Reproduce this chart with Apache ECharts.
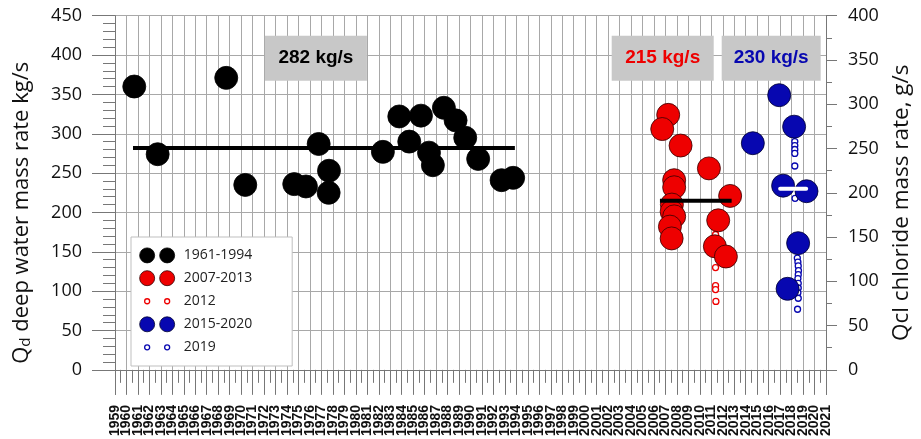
<!DOCTYPE html>
<html>
<head>
<meta charset="utf-8">
<script src="https://cdn.jsdelivr.net/npm/echarts@6/dist/echarts.min.js"></script>
<style>
  html, body { margin: 0; padding: 0; background: #fff; }
  #chart1 { width: 921px; height: 439px; }
</style>
</head>
<body>
<div id="chart1"></div>
<script>
// 1961-1994 (black)
const blackYears = [1960.68, 1962.72, 1968.70, 1970.36, 1974.63, 1975.65, 1976.76, 1977.66, 1977.63, 1982.36, 1983.79,
    1984.66, 1985.68, 1986.38, 1986.72, 1987.68, 1988.70, 1989.54, 1990.67, 1992.71, 1993.72];
const blackValues = [360, 274, 371, 235, 236, 233, 287, 253, 225, 277, 322, 290, 323, 276, 260, 333, 317, 295, 268, 241, 244];

// 2007-2013 (red)
const redYears = [2007.24, 2006.72, 2008.32, 2010.79, 2007.76, 2007.76, 2012.64, 2007.56, 2007.54, 2007.76, 2007.39,
    2007.54, 2011.60, 2011.31, 2012.27];
const redValues = [324, 306, 285, 256, 241, 232, 221, 210, 201, 195, 182, 167, 190, 157, 144];

// 2012 (small red)
const red2012Years = [2011.37, 2011.37, 2011.37, 2011.37, 2011.40];
const red2012Values = [172, 130, 107, 102, 87];

// 2015-2020 (blue)
const blueYears = [2016.92, 2018.22, 2014.62, 2017.26, 2019.30, 2018.57, 2017.65];
const blueValues = [349, 309, 288, 234, 227, 161, 103];

// 2019 (small blue)
const blue2019Years = [2018.28, 2018.28, 2018.28, 2018.28, 2018.28, 2018.30, 2018.50, 2018.55, 2018.58, 2018.60, 2018.58,
    2018.55, 2018.58, 2018.58, 2018.55, 2018.58, 2018.52];
const blue2019Values = [290, 285, 280, 275, 259, 218, 142, 137, 132, 126, 121, 116, 110, 104, 98, 91, 77];

// mean values, line extents and their text boxes
const meanNames = ['1961-1994', '2007-2013', '2015-2020'];
const meanValues = [282, 215, 230];
const meanStart = [1960.57, 2006.52, 2017.0];
const meanEnd = [1993.87, 2012.77, 2019.27];
const meanLabels = ['282 kg/s', '215 kg/s', '230 kg/s'];
const labelYears = [1976.52, 2006.76, 2016.22];
const labelValue = 396;

const yLeftTicks = [0, 450, 50];
const yRightTicks = [0, 400, 50];
const xYears = [1959, 2021];

const FONT = "'Open Sans', 'DejaVu Sans', sans-serif";
const RED = '#ee0000';
const BLUE = '#0707b0';

function pairs(xs, ys) {
    let out = [];
    for (let i = 0; i < xs.length; i++) {
        out.push([xs[i], ys[i]]);
    }
    return out;
}

// two circles side by side, like the spreadsheet legend
const bigIcon = 'path://M0,0 M39,16 M0,8 A7.5,7.5 0 1,1 15,8 A7.5,7.5 0 1,1 0,8 Z M20,8 A7.5,7.5 0 1,1 35,8 A7.5,7.5 0 1,1 20,8 Z';
const smallIcon = 'path://M0,0 M39,16 M5,8 A2.5,2.5 0 1,1 10,8 A2.5,2.5 0 1,1 5,8 Z M25,8 A2.5,2.5 0 1,1 30,8 A2.5,2.5 0 1,1 25,8 Z';

const yearLabel = {
    rotate: 90,
    margin: 35,
    hideOverlap: false,
    fontFamily: "'Liberation Sans', Arial, sans-serif",
    fontWeight: 'bold',
    fontSize: 14,
    color: '#111',
    formatter: function (v) { return String(v); }
};

let chart1;

function meanSeries(i, color, cap) {
    return {
        name: 'mean ' + meanNames[i],
        type: 'line',
        yAxisIndex: 0,
        showSymbol: false,
        silent: true,
        z: 5,
        lineStyle: { color: color, width: 4, cap: cap },
        data: [[meanStart[i], meanValues[i]], [meanEnd[i], meanValues[i]]],
        markPoint: {
            symbol: 'rect',
            symbolSize: [i === 2 ? 99 : 102, 45],
            silent: true,
            itemStyle: { color: '#c8c8c8' },
            label: {
                show: true,
                position: 'inside',
                formatter: meanLabels[i],
                fontFamily: "'Liberation Sans', Arial, sans-serif",
                fontWeight: 'bold',
                fontSize: 19,
                color: ['#000', RED, BLUE][i]
            },
            data: [{ coord: [labelYears[i], labelValue] }]
        }
    };
}

function initCharts() {
    chart1 = echarts.init(document.getElementById('chart1'));

    let option = {
        animation: false,
        grid: { left: 115, right: 95, top: 15.7, bottom: 68.7 },
        legend: {
            orient: 'vertical',
            left: 131,
            top: 237,
            padding: [10, 40, 10, 8],
            itemGap: 6,
            itemWidth: 39,
            itemHeight: 16,
            backgroundColor: '#fff',
            borderColor: '#bfbfbf',
            borderWidth: 1,
            textStyle: { fontFamily: FONT, fontSize: 14, color: '#222' },
            data: [
                { name: '1961-1994', icon: bigIcon, itemStyle: { color: '#000', borderColor: '#000', borderWidth: 0.8 } },
                { name: '2007-2013', icon: bigIcon, itemStyle: { color: RED, borderColor: '#300', borderWidth: 0.8 } },
                { name: '2012', icon: smallIcon, itemStyle: { color: '#fff', borderColor: RED, borderWidth: 1.3 } },
                { name: '2015-2020', icon: bigIcon, itemStyle: { color: BLUE, borderColor: '#000030', borderWidth: 0.8 } },
                { name: '2019', icon: smallIcon, itemStyle: { color: '#fff', borderColor: BLUE, borderWidth: 1.3 } }
            ]
        },
        xAxis: [
            {
                type: 'value',
                min: xYears[0],
                max: xYears[1],
                interval: 1,
                axisLine: { show: true, lineStyle: { color: '#777' } },
                axisTick: { show: true, length: 25, lineStyle: { color: '#777' } },
                minorTick: { show: true, splitNumber: 2, length: 13, lineStyle: { color: '#777' } },
                splitLine: { show: true, lineStyle: { color: '#a8a8a8', width: 1 } },
                axisLabel: Object.assign({ showMinLabel: false, showMaxLabel: false }, yearLabel)
            },
            {
                // only the two end years, so the neighbour labels are not dropped
                type: 'value',
                position: 'bottom',
                min: xYears[0],
                max: xYears[1],
                interval: xYears[1] - xYears[0],
                axisLine: { show: false },
                axisTick: { show: true, length: 25, lineStyle: { color: '#777' } },
                splitLine: { show: false },
                axisLabel: Object.assign({ showMinLabel: true, showMaxLabel: true }, yearLabel)
            }
        ],
        yAxis: [
            {
                type: 'value',
                position: 'left',
                min: yLeftTicks[0],
                max: yLeftTicks[1],
                interval: yLeftTicks[2],
                name: '{a|Q}{b|d}{a| deep water mass rate kg/s}',
                nameLocation: 'middle',
                nameGap: 82,
                nameTextStyle: {
                    padding: [0, 40, 0, 0],
                    rich: {
                        a: { fontFamily: FONT, fontSize: 22, color: '#111' },
                        b: { fontFamily: FONT, fontSize: 15, color: '#111', verticalAlign: 'bottom', lineHeight: 18 }
                    }
                },
                axisLine: { show: true, lineStyle: { color: '#777' } },
                axisTick: { show: true, length: 23, lineStyle: { color: '#777' } },
                minorTick: { show: true, splitNumber: 5, length: 12, lineStyle: { color: '#777' } },
                splitLine: { show: true, lineStyle: { color: '#a8a8a8', width: 1 } },
                axisLabel: { margin: 33, fontFamily: FONT, fontSize: 18, color: '#111' }
            },
            {
                type: 'value',
                position: 'right',
                min: yRightTicks[0],
                max: yRightTicks[1],
                interval: yRightTicks[2],
                name: 'Qcl chloride mass rate, g/s',
                nameLocation: 'middle',
                nameGap: 57,
                nameTextStyle: { fontFamily: FONT, fontSize: 22.5, color: '#111', padding: [0, 20, 0, 0] },
                axisLine: { show: true, lineStyle: { color: '#777' } },
                axisTick: { show: true, length: 11, lineStyle: { color: '#777' } },
                minorTick: { show: true, splitNumber: 2, length: 6, lineStyle: { color: '#777' } },
                splitLine: { show: false },
                axisLabel: { margin: 22, fontFamily: FONT, fontSize: 18, color: '#111' }
            }
        ],
        series: [
            {
                name: '2012',
                type: 'scatter',
                symbol: 'circle',
                symbolSize: 6,
                z: 2,
                itemStyle: { color: '#fff', borderColor: RED, borderWidth: 1.3, opacity: 1 },
                data: pairs(red2012Years, red2012Values)
            },
            {
                name: '2019',
                type: 'scatter',
                symbol: 'circle',
                symbolSize: 6,
                z: 2,
                itemStyle: { color: '#fff', borderColor: BLUE, borderWidth: 1.3, opacity: 1 },
                data: pairs(blue2019Years, blue2019Values)
            },
            {
                name: '1961-1994',
                type: 'scatter',
                symbol: 'circle',
                symbolSize: 23,
                z: 3,
                itemStyle: { color: '#000', borderColor: '#000', borderWidth: 0.8, opacity: 1 },
                data: pairs(blackYears, blackValues)
            },
            {
                name: '2007-2013',
                type: 'scatter',
                symbol: 'circle',
                symbolSize: 23,
                z: 3,
                itemStyle: { color: RED, borderColor: '#300', borderWidth: 0.8, opacity: 1 },
                data: pairs(redYears, redValues)
            },
            {
                name: '2015-2020',
                type: 'scatter',
                symbol: 'circle',
                symbolSize: 23,
                z: 3,
                itemStyle: { color: BLUE, borderColor: '#000030', borderWidth: 0.8, opacity: 1 },
                data: pairs(blueYears, blueValues)
            },
            meanSeries(0, '#000', 'butt'),
            meanSeries(1, '#000', 'butt'),
            meanSeries(2, '#fff', 'round')
        ]
    };

    chart1.setOption(option);
}

document.addEventListener('DOMContentLoaded', function () {
    initCharts();
});
</script>
</body>
</html>
